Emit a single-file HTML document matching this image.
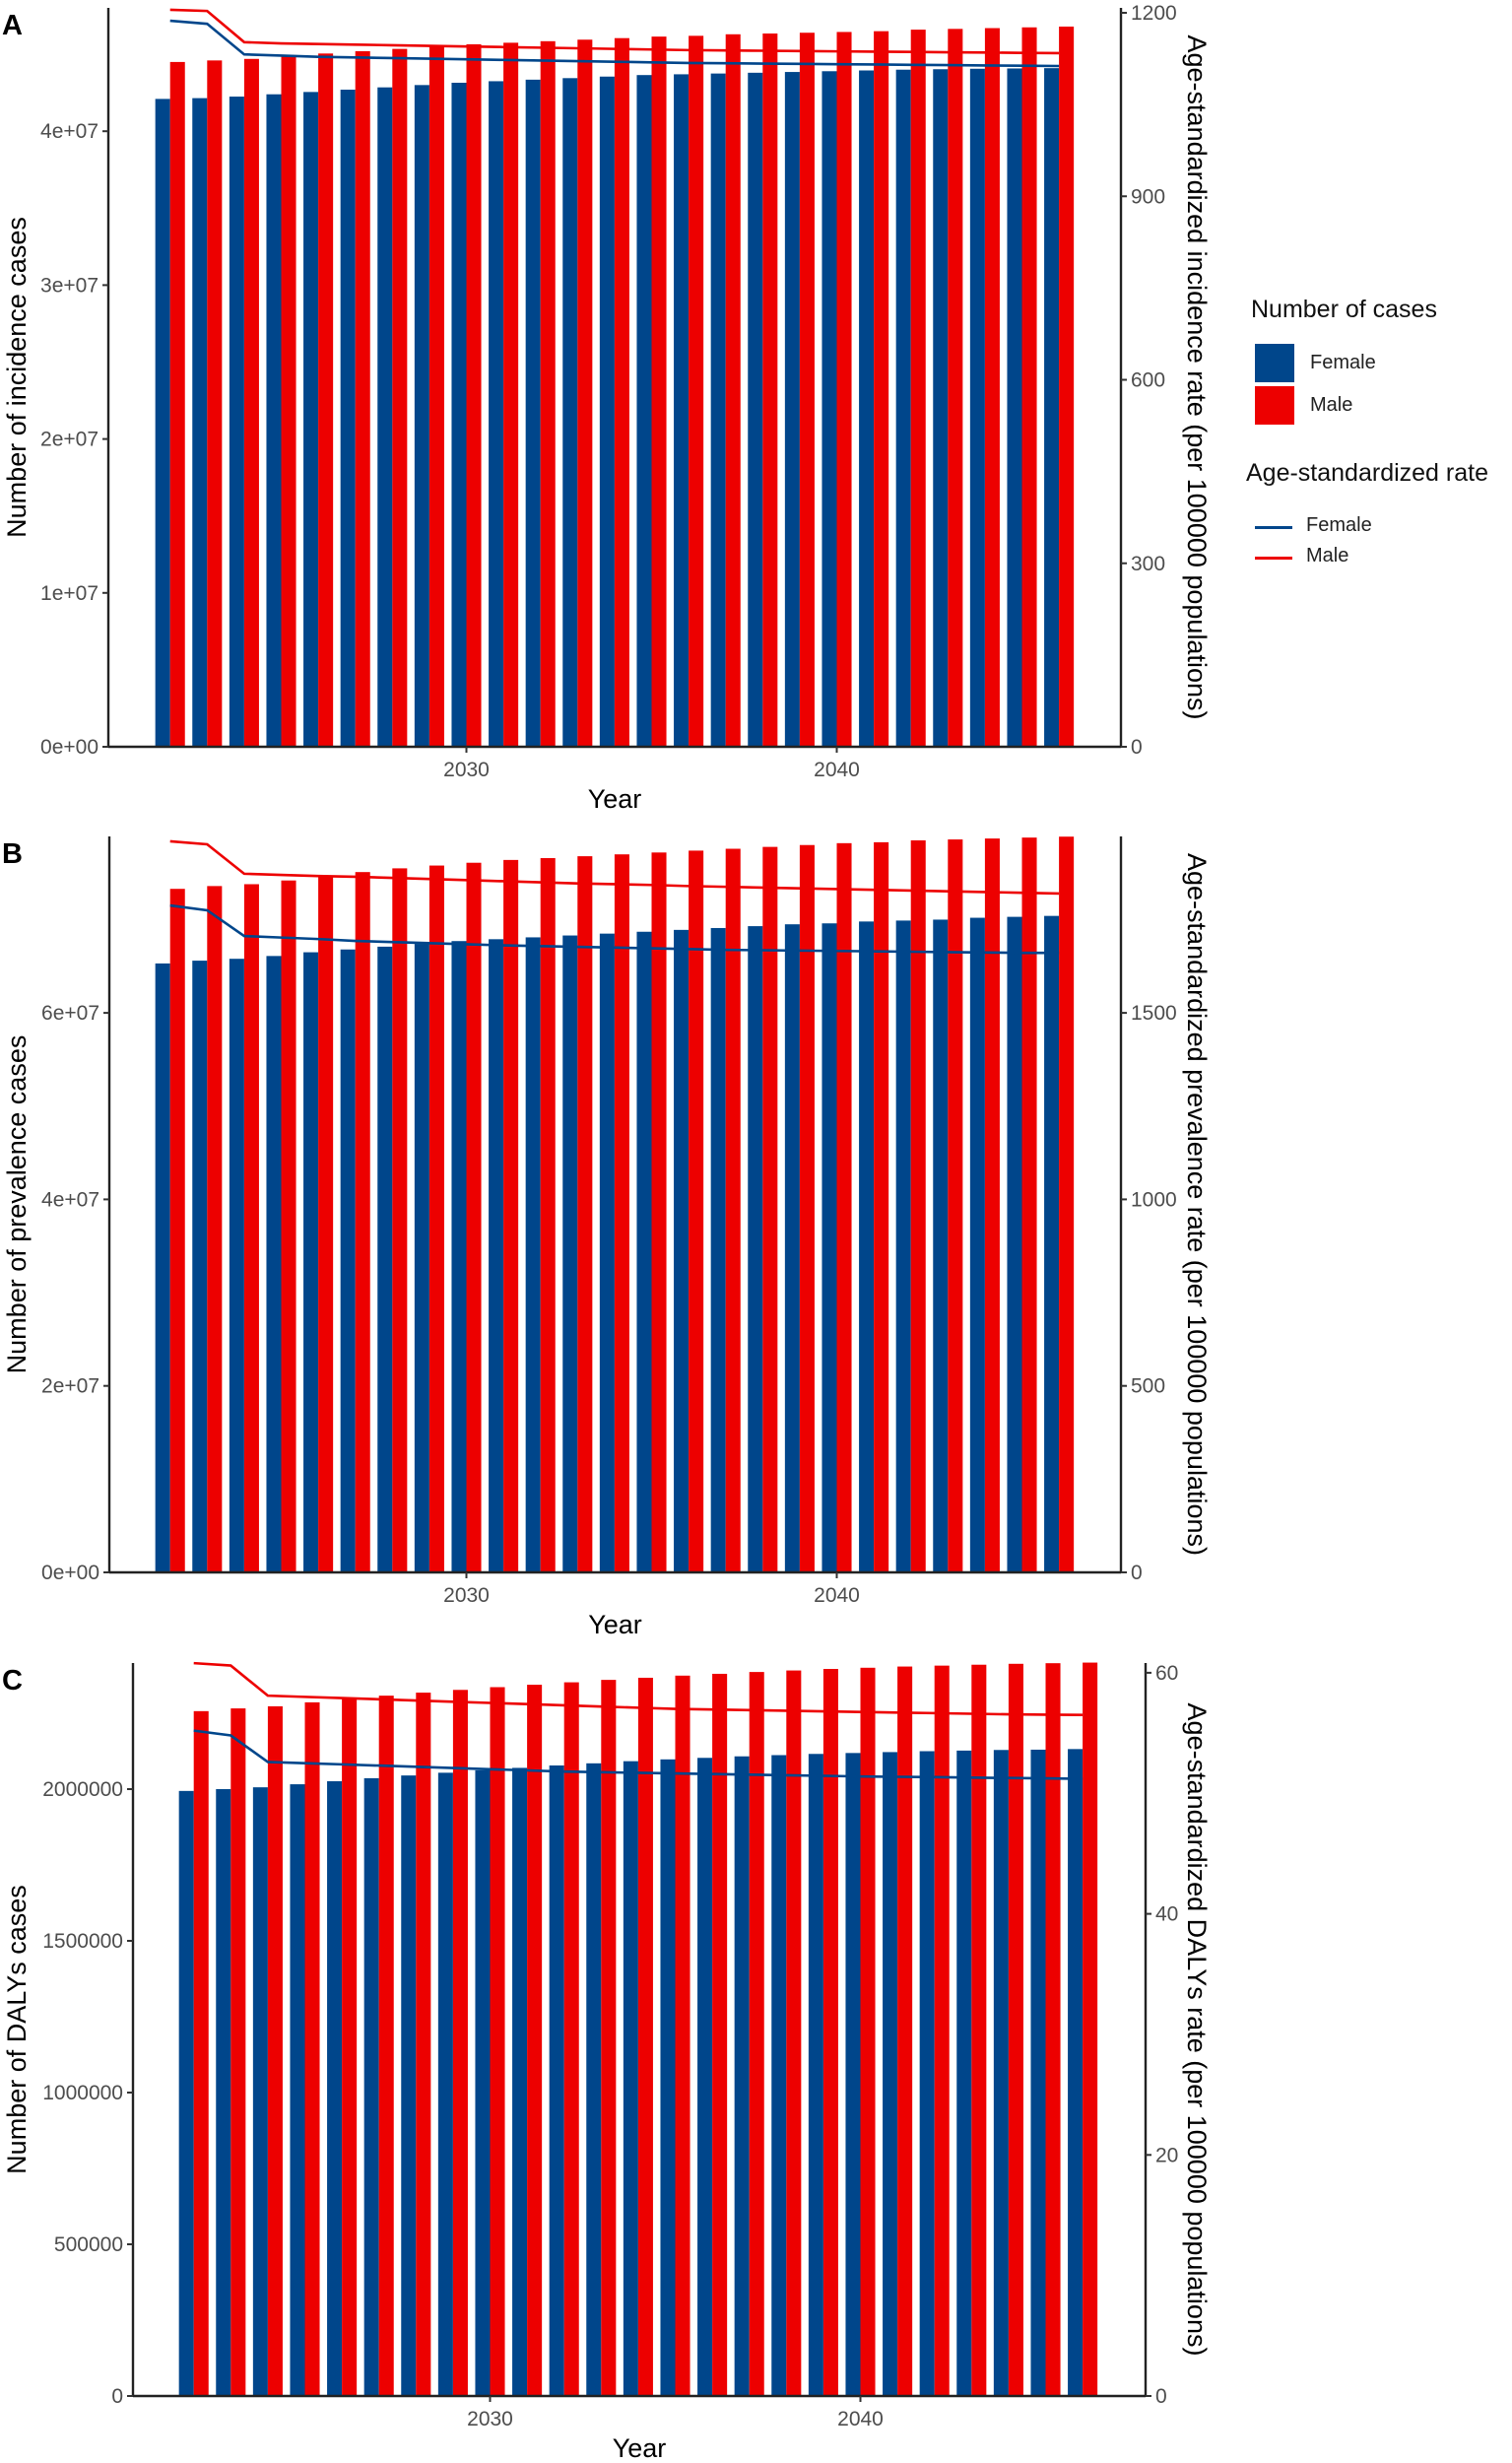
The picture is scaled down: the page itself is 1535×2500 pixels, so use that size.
<!DOCTYPE html>
<html><head><meta charset="utf-8"><style>
html,body{margin:0;padding:0;background:#fff;}
svg{display:block;font-family:"Liberation Sans",sans-serif;}
.tick{fill:#4d4d4d;font-size:21px;}
.atitle{fill:#000;font-size:27px;}
</style></head><body>
<svg id="chart" width="1535" height="2500" viewBox="0 0 1535 2500"></svg>
<script>
const years = [2022,2023,2024,2025,2026,2027,2028,2029,2030,2031,2032,2033,2034,2035,2036,2037,2038,2039,2040,2041,2042,2043,2044,2045,2046];
const xTickYears = [2030, 2040];
// Panel A: incidence
const incFemale = [4.21,4.215,4.225,4.24,4.255,4.27,4.285,4.30,4.315,4.325,4.335,4.345,4.355,4.365,4.37,4.375,4.38,4.385,4.39,4.395,4.40,4.403,4.406,4.408,4.41].map(v=>v*1e7);
const incMale = [4.45,4.46,4.47,4.49,4.505,4.52,4.535,4.55,4.565,4.575,4.585,4.595,4.605,4.615,4.62,4.63,4.635,4.64,4.645,4.65,4.66,4.665,4.67,4.675,4.68].map(v=>v*1e7);
const incRateMale = [1205,1203,1152,1150,1149,1148,1147,1146,1145,1144,1143,1142,1141,1140,1139,1138.5,1138,1137.5,1137,1136.5,1136,1135.5,1135,1134.5,1134];
const incRateFemale = [1187,1182,1132,1130,1128,1127,1126,1125,1124,1123,1122,1121,1120,1119,1118,1117.5,1117,1116.5,1116,1115.5,1115,1114.5,1114,1113.5,1113];
const incLeftTicks = [0,1e7,2e7,3e7,4e7];
const incLeftLabels = ["0e+00","1e+07","2e+07","3e+07","4e+07"];
const incRightTicks = [0,300,600,900,1200];
// Panel B: prevalence
const prevFemale = [6.53,6.56,6.58,6.61,6.65,6.68,6.71,6.74,6.77,6.79,6.81,6.83,6.85,6.87,6.89,6.91,6.93,6.95,6.96,6.98,6.99,7.00,7.02,7.03,7.04].map(v=>v*1e7);
const prevMale = [7.33,7.36,7.38,7.42,7.46,7.51,7.55,7.58,7.61,7.64,7.66,7.68,7.70,7.72,7.74,7.76,7.78,7.80,7.82,7.83,7.85,7.86,7.87,7.88,7.89].map(v=>v*1e7);
const prevRateMale = [1960,1952,1873,1870,1867,1865,1862,1859,1856,1853,1850,1847,1845,1843,1840,1838,1836,1834,1832,1830,1828,1826,1824,1822,1820];
const prevRateFemale = [1788,1775,1706,1702,1698,1693,1690,1687,1684,1681,1679,1677,1675,1673,1671,1669,1668,1667,1666,1665,1664,1663,1662,1661,1661];
const prevLeftTicks = [0,2e7,4e7,6e7];
const prevLeftLabels = ["0e+00","2e+07","4e+07","6e+07"];
const prevRightTicks = [0,500,1000,1500];
// Panel C: DALYs
const dalyFemale = [1.994,2.000,2.006,2.016,2.026,2.036,2.045,2.054,2.062,2.070,2.078,2.085,2.092,2.098,2.103,2.108,2.112,2.116,2.119,2.122,2.125,2.127,2.129,2.130,2.132].map(v=>v*1e6);
const dalyMale = [2.257,2.266,2.273,2.286,2.299,2.308,2.318,2.327,2.336,2.344,2.352,2.360,2.367,2.374,2.380,2.386,2.391,2.396,2.400,2.404,2.407,2.410,2.413,2.415,2.417].map(v=>v*1e6);
const dalyRateMale = [60.8,60.6,58.1,58.0,57.9,57.8,57.7,57.6,57.5,57.4,57.3,57.2,57.1,57.0,56.95,56.9,56.85,56.8,56.75,56.7,56.65,56.6,56.55,56.52,56.5];
const dalyRateFemale = [55.2,54.8,52.6,52.5,52.4,52.3,52.2,52.1,52.0,51.9,51.8,51.75,51.7,51.65,51.6,51.55,51.5,51.45,51.4,51.37,51.34,51.3,51.27,51.24,51.2];
const dalyLeftTicks = [0,500000,1000000,1500000,2000000];
const dalyLeftLabels = ["0","500000","1000000","1500000","2000000"];
const dalyRightTicks = [0,20,40,60];

const FEMALE="#00468B", MALE="#ED0000";
const NS="http://www.w3.org/2000/svg";
const svg=document.getElementById('chart');
function mk(tag,attrs,parent,text){const e=document.createElementNS(NS,tag);for(const k in attrs)e.setAttribute(k,attrs[k]);if(text!==undefined)e.textContent=text;(parent||svg).appendChild(e);return e;}

function panel(cfg){
  const g=mk('g',{});
  
  
  const step=37.6;
  const xs=y=>cfg.x2022+(y-2022)*step;
  const yl=v=>cfg.base-v*cfg.lScale;
  const yr=v=>cfg.base-v*cfg.rScale;
  const bw=step*0.4;
  years.forEach((yr_,i)=>{
    const cx=xs(yr_);
    const f=mk('rect',{x:cx-bw,y:yl(cfg.female[i]),width:bw,height:cfg.base-yl(cfg.female[i]),fill:FEMALE},g);
    
    
    const m=mk('rect',{x:cx,y:yl(cfg.male[i]),width:bw,height:cfg.base-yl(cfg.male[i]),fill:MALE},g);
    
    
  });
  const lm=mk('polyline',{points:years.map((y,i)=>xs(y)+','+yr(cfg.rateMale[i])).join(' '),fill:'none',stroke:MALE,'stroke-width':2.6},g);
  
  
  const lf=mk('polyline',{points:years.map((y,i)=>xs(y)+','+yr(cfg.rateFemale[i])).join(' '),fill:'none',stroke:FEMALE,'stroke-width':2.6},g);
  
  
  mk('line',{x1:cfg.left,y1:cfg.top,x2:cfg.left,y2:cfg.base,stroke:'#222','stroke-width':2.4},g);
  mk('line',{x1:cfg.right,y1:cfg.top,x2:cfg.right,y2:cfg.base,stroke:'#222','stroke-width':2.4},g);
  mk('line',{x1:cfg.left,y1:cfg.base,x2:cfg.right,y2:cfg.base,stroke:'#222','stroke-width':2.4},g);
  cfg.lTicks.forEach((v,i)=>{
    mk('line',{x1:cfg.left-6,y1:yl(v),x2:cfg.left,y2:yl(v),stroke:'#333','stroke-width':2},g);
    const t=mk('text',{x:cfg.left-10,y:yl(v)+7,'text-anchor':'end',class:'tick'},g,cfg.lLabels[i]);
    
    
  });
  cfg.rTicks.forEach(v=>{
    mk('line',{x1:cfg.right,y1:yr(v),x2:cfg.right+6,y2:yr(v),stroke:'#333','stroke-width':2},g);
    const t=mk('text',{x:cfg.right+10,y:yr(v)+7,class:'tick'},g,String(v));
    
    
  });
  xTickYears.forEach(y=>{
    mk('line',{x1:xs(y),y1:cfg.base,x2:xs(y),y2:cfg.base+6,stroke:'#333','stroke-width':2},g);
    const t=mk('text',{x:xs(y),y:cfg.base+30,'text-anchor':'middle',class:'tick'},g,String(y));
    
    
  });
  const xt=mk('text',{x:(cfg.left+cfg.right)/2,y:cfg.base+62,'text-anchor':'middle',class:'atitle','font-size':'27'},g,'Year');
  
  
  const my=(cfg.top+cfg.base)/2;
  const lt=mk('text',{x:0,y:0,'text-anchor':'middle',class:'atitle','font-size':cfg.lFont,transform:`translate(26,${my}) rotate(-90)`},g,cfg.lTitle);
  
  
  const rt=mk('text',{x:0,y:0,'text-anchor':'middle',class:'atitle','font-size':cfg.rFont,transform:`translate(${cfg.rTitleX},${my}) rotate(90)`},g,cfg.rTitle);
  
  
  const pl=mk('text',{x:2,y:cfg.top+27,'font-size':'29','font-weight':'bold',fill:'#000'},g,cfg.id);
  
  
}

panel({id:'A',left:110,right:1138,top:8,base:758,x2022:172.7,lScale:156.2/1e7,rScale:186.25/300,
  female:incFemale,male:incMale,rateMale:incRateMale,rateFemale:incRateFemale,
  lTicks:incLeftTicks,lLabels:incLeftLabels,rTicks:incRightTicks,lFont:29,rFont:27,rTitleX:1206,
  lTitle:'Number of incidence cases',rTitle:'Age-standardized incidence rate (per 100000 populations)'});
panel({id:'B',left:111,right:1138,top:849,base:1596,x2022:172.7,lScale:189.3/2e7,rScale:189.3/500,
  female:prevFemale,male:prevMale,rateMale:prevRateMale,rateFemale:prevRateFemale,
  lTicks:prevLeftTicks,lLabels:prevLeftLabels,rTicks:prevRightTicks,lFont:29,rFont:27,rTitleX:1206,
  lTitle:'Number of prevalence cases',rTitle:'Age-standardized prevalence rate (per 100000 populations)'});
panel({id:'C',left:135,right:1163,top:1688,base:2432,x2022:196.7,lScale:154/500000,rScale:244.7/20,
  female:dalyFemale,male:dalyMale,rateMale:dalyRateMale,rateFemale:dalyRateFemale,
  lTicks:dalyLeftTicks,lLabels:dalyLeftLabels,rTicks:dalyRightTicks,lFont:29,rFont:28,rTitleX:1206,
  lTitle:'Number of DALYs cases',rTitle:'Age-standardized DALYs rate (per 100000 populations)'});
</script>
<div style="position:absolute;left:1262px;top:296px;width:273px;height:290px;font-family:'Liberation Sans',sans-serif;">
  <div style="position:absolute;left:8px;top:4px;font-size:25px;color:#111;white-space:nowrap;">Number of cases</div>
  <div style="position:absolute;left:12px;top:53px;width:40px;height:39px;background:#00468B;"></div>
  <div style="position:absolute;left:68px;top:61px;font-size:20px;color:#222;">Female</div>
  <div style="position:absolute;left:12px;top:96px;width:40px;height:39px;background:#ED0000;"></div>
  <div style="position:absolute;left:68px;top:104px;font-size:20px;color:#222;">Male</div>
  <div style="position:absolute;left:3px;top:170px;font-size:25px;color:#111;white-space:nowrap;">Age-standardized rate</div>
  <div style="position:absolute;left:12px;top:238px;width:38px;height:3px;background:#00468B;"></div>
  <div style="position:absolute;left:64px;top:226px;font-size:20px;color:#222;">Female</div>
  <div style="position:absolute;left:12px;top:269px;width:38px;height:3px;background:#ED0000;"></div>
  <div style="position:absolute;left:64px;top:257px;font-size:20px;color:#222;">Male</div>
</div>
</body></html>
